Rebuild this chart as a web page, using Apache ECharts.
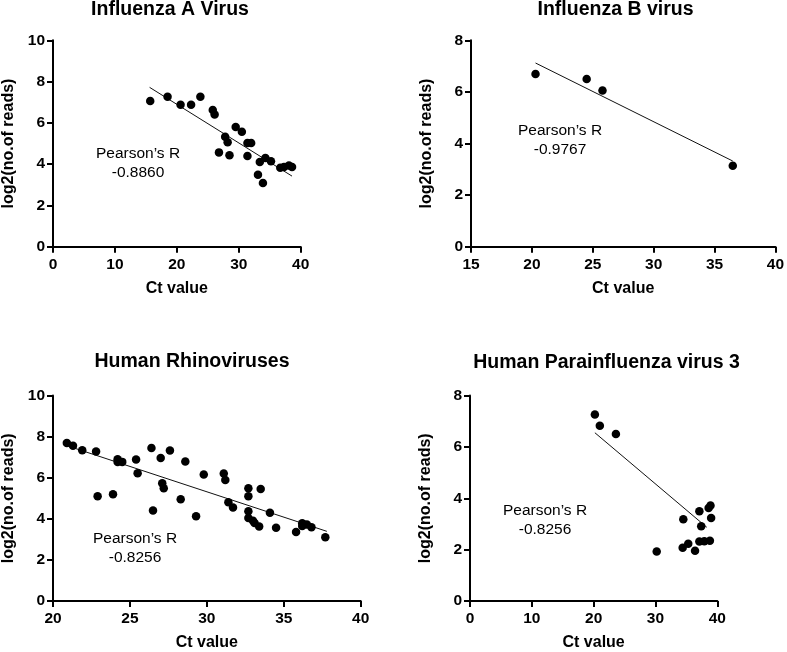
<!DOCTYPE html>
<html>
<head>
<meta charset="utf-8">
<script src="https://cdn.jsdelivr.net/npm/echarts@6/dist/echarts.min.js"></script>
<style>html,body{margin:0;padding:0;background:#fff;}#c{width:787px;height:652px;}</style>
</head>
<body>
<div id="c"></div>
<script>
// ---- Data ----
const titles = ['Influenza A Virus', 'Influenza B virus', 'Human Rhinoviruses', 'Human Parainfluenza virus 3'];
const pearsonR = ['-0.8860', '-0.9767', '-0.8256', '-0.8256'];

const fluA_ct    = [15.7, 18.5, 20.6, 22.3, 23.8, 25.8, 26.1, 26.8, 27.8, 28.2, 28.5, 29.5, 30.5, 31.4, 32.0, 31.4, 33.4, 34.3, 35.2, 33.1, 33.9, 36.7, 37.3, 38.1, 38.6];
const fluA_reads = [7.06, 7.27, 6.88, 6.88, 7.27, 6.62, 6.40, 4.57, 5.33, 5.06, 4.43, 5.80, 5.57, 5.02, 5.02, 4.39, 4.10, 4.30, 4.14, 3.49, 3.09, 3.83, 3.86, 3.93, 3.86];
const fluA_fitX  = [15.6, 38.6];
const fluA_fitY  = [7.72, 3.42];

const fluB_ct    = [20.3, 24.5, 25.8, 36.5];
const fluB_reads = [6.69, 6.50, 6.05, 3.14];
const fluB_fitX  = [20.3, 36.5];
const fluB_fitY  = [7.12, 3.32];

const hrv_ct    = [20.9, 21.3, 21.9, 22.8, 22.9, 23.9, 24.2, 24.2, 24.5, 25.4, 25.5, 26.4, 26.5, 27.0, 27.1, 27.2, 27.6, 28.3, 28.6, 29.3, 29.8, 31.1, 31.2, 31.4, 31.7, 32.7, 32.7, 32.7, 32.7, 33.0, 33.1, 33.4, 33.5, 34.1, 34.5, 35.8, 36.2, 36.2, 36.5, 36.8, 37.7];
const hrv_reads = [7.69, 7.56, 7.34, 7.27, 5.10, 5.19, 6.77, 6.90, 6.77, 6.88, 6.22, 7.45, 4.40, 6.96, 5.73, 5.49, 7.32, 4.95, 6.79, 4.12, 6.15, 6.20, 5.89, 4.81, 4.55, 5.49, 5.10, 4.37, 4.04, 3.91, 3.80, 3.62, 5.45, 4.30, 3.57, 3.36, 3.65, 3.78, 3.72, 3.59, 3.10];
const hrv_fitX  = [20.9, 37.8];
const hrv_fitY  = [7.56, 3.39];

const hpiv_ct    = [20.2, 21.0, 23.6, 30.2, 34.5, 34.4, 35.3, 36.4, 37.1, 37.4, 37.1, 37.9, 38.8, 38.6, 38.9, 39.0];
const hpiv_reads = [7.26, 6.82, 6.50, 1.93, 3.18, 2.07, 2.23, 1.96, 3.49, 2.91, 2.32, 2.33, 2.35, 3.62, 3.72, 3.23];
const hpiv_fitX  = [20.2, 38.3];
const hpiv_fitY  = [6.55, 2.87];

const xMin = [0, 15, 20, 0], xMax = [40, 40, 40, 40], xInt = [10, 5, 5, 10];
const yMax = [10, 8, 10, 8];

// ---- Layout ----
const grids = [
  {left: 51.7, top: 40.3, width: 249, height: 206.4},
  {left: 471, top: 40.3, width: 308, height: 206.4},
  {left: 52.7, top: 395.5, width: 308, height: 205.5},
  {left: 470, top: 395.5, width: 247.3, height: 205.5}
];
const titlePos = [[170, 10], [615.5, 9.5], [192, 362], [606.5, 362.5]];
const notePos = [[138, 154], [560, 131], [135, 539], [545, 511]];

const FONT = '"Liberation Sans", Arial, sans-serif';
const pairs = (xs, ys) => xs.map((x, i) => [x, ys[i]]);
const scatterSets = [pairs(fluA_ct, fluA_reads), pairs(fluB_ct, fluB_reads), pairs(hrv_ct, hrv_reads), pairs(hpiv_ct, hpiv_reads)];
const fitSets = [pairs(fluA_fitX, fluA_fitY), pairs(fluB_fitX, fluB_fitY), pairs(hrv_fitX, hrv_fitY), pairs(hpiv_fitX, hpiv_fitY)];

const axisCommon = {
  axisLine: {show: true, onZero: false, lineStyle: {color: '#000', width: 2}},
  axisTick: {show: true, length: 6, lineStyle: {color: '#000', width: 2}},
  splitLine: {show: false},
  axisLabel: {color: '#000', fontFamily: FONT, fontWeight: 'bold', fontSize: 15.5},
  nameTextStyle: {color: '#000', fontFamily: FONT, fontWeight: 'bold', fontSize: 16}
};

const xAxis = [], yAxis = [], series = [], graphic = [];
for (let i = 0; i < 4; i++) {
  xAxis.push(Object.assign({}, axisCommon, {
    type: 'value', gridIndex: i, min: xMin[i], max: xMax[i], interval: xInt[i],
    name: 'Ct value', nameLocation: 'middle', nameGap: 34,
    axisLabel: Object.assign({}, axisCommon.axisLabel, {margin: 10})
  }));
  yAxis.push(Object.assign({}, axisCommon, {
    type: 'value', gridIndex: i, min: 0, max: yMax[i], interval: 2,
    name: 'log2(no.of reads)', nameLocation: 'middle', nameGap: 36,
    axisLabel: Object.assign({}, axisCommon.axisLabel, {margin: 8})
  }));
  series.push({
    type: 'line', xAxisIndex: i, yAxisIndex: i, data: fitSets[i],
    symbol: 'none', lineStyle: {color: '#111', width: 1}, silent: true, z: 2
  });
  series.push({
    type: 'scatter', xAxisIndex: i, yAxisIndex: i, data: scatterSets[i],
    symbolSize: 8.5, itemStyle: {color: '#000', opacity: 1}, z: 3
  });
  graphic.push({
    type: 'text', x: titlePos[i][0], y: titlePos[i][1],
    style: {text: titles[i], font: 'bold 19.5px ' + FONT, fill: '#000',
      textAlign: 'center', textVerticalAlign: 'middle', align: 'center', verticalAlign: 'middle'}
  });
  graphic.push({
    type: 'text', x: notePos[i][0], y: notePos[i][1],
    style: {text: 'Pearson\u2019s R', font: '15.5px ' + FONT, fill: '#000',
      textAlign: 'center', textVerticalAlign: 'middle', align: 'center', verticalAlign: 'middle'}
  });
  graphic.push({
    type: 'text', x: notePos[i][0], y: notePos[i][1] + 19,
    style: {text: pearsonR[i], font: '15.5px ' + FONT, fill: '#000',
      textAlign: 'center', textVerticalAlign: 'middle', align: 'center', verticalAlign: 'middle'}
  });
}

const chart = echarts.init(document.getElementById('c'), null, {renderer: 'canvas'});
chart.setOption({
  animation: false,
  backgroundColor: '#fff',
  grid: grids,
  xAxis: xAxis,
  yAxis: yAxis,
  series: series,
  graphic: graphic
});
</script>
</body>
</html>
